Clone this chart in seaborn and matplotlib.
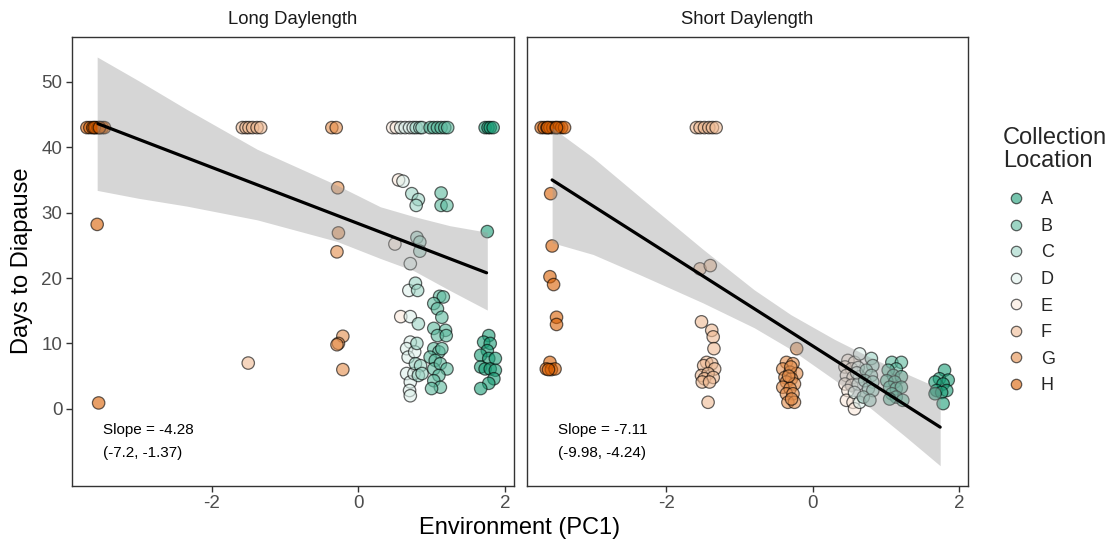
import matplotlib
matplotlib.use("Agg")
import matplotlib.pyplot as plt
from matplotlib.lines import Line2D
import seaborn as sns
import pandas as pd

sns.set_theme(style="white")
plt.rcParams['font.family'] = ['Liberation Sans', 'DejaVu Sans']
plt.rcParams['axes.unicode_minus'] = False

locations = ["A", "B", "C", "D", "E", "F", "G", "H"]
loc_colors = ["#1b9e77", "#5cba9e", "#9dd5c5", "#def1ec",
              "#fae8db", "#efba93", "#e48d4a", "#d95f02"]

# ---- Long daylength: points (PC1, days) ----
long_x = [
    # H
    -3.70, -3.66, -3.62, -3.58, -3.55, -3.52, -3.49, -3.46, -3.60, -3.53, -3.56, -3.54,
    # F
    -1.58, -1.53, -1.49, -1.44, -1.38, -1.33, -1.50,
    # G
    -0.36, -0.30, -0.28, -0.27, -0.29, -0.21, -0.27, -0.29, -0.21,
    # E
    0.47, 0.52, 0.55, 0.50, 0.58,
    # D
    0.58, 0.64, 0.70, 0.75, 0.61, 0.71, 0.69, 0.71, 0.71, 0.66, 0.68, 0.66, 0.71, 0.70, 0.71, 0.76, 0.77,
    # C
    0.79, 0.84, 0.87, 0.73, 0.82, 0.79, 0.80, 0.84, 0.84, 0.78, 0.81, 0.82, 0.80, 0.78, 0.85, 0.82, 0.87,
    # B
    0.98, 1.03, 1.08, 1.13, 1.18, 1.22, 1.13, 1.13, 1.21, 1.11, 1.16, 1.03, 1.08, 1.14, 1.03, 1.19,
    1.08, 1.20, 1.03, 1.10, 1.14, 0.98, 1.05, 1.03, 1.12, 1.21, 1.10, 1.03, 1.12, 1.00,
    # A
    1.73, 1.77, 1.80, 1.84, 1.76, 1.78, 1.71, 1.80, 1.76, 1.67, 1.78, 1.87, 1.67, 1.73, 1.80, 1.87,
    1.85, 1.78, 1.67,
]
long_y = [
    43, 43, 43, 43, 43, 43, 43, 43, 43, 43, 28.2, 0.9,
    43, 43, 43, 43, 43, 43, 7.0,
    43, 43, 33.8, 26.9, 24.0, 11.1, 10.0, 9.8, 6.0,
    43, 43, 35.0, 25.2, 14.1,
    43, 43, 43, 43, 34.8, 22.2, 18.1, 14.1, 10.2, 9.2, 7.9, 5.4, 4.1, 2.8, 2.0, 5.4, 8.7,
    43, 43, 43, 32.9, 32.0, 31.1, 26.2, 25.5, 24.1, 19.2, 18.1, 13.0, 10.0, 6.9, 6.6, 5.1, 5.4,
    43, 43, 43, 43, 43, 43, 33.0, 31.1, 31.1, 17.2, 17.1, 16.1, 15.3, 14.0, 12.3, 12.0,
    11.2, 11.2, 9.2, 8.7, 9.2, 7.9, 7.4, 6.1, 6.9, 6.1, 5.1, 4.3, 3.3, 3.1,
    43, 43, 43, 43, 27.1, 11.2, 10.2, 10.0, 8.9, 8.2, 7.7, 7.7, 6.4, 6.1, 6.1, 5.9,
    4.6, 3.9, 3.1,
]
long_loc = list("H" * 12 + "F" * 7 + "G" * 9 + "E" * 5 + "D" * 17 + "C" * 17 + "B" * 30 + "A" * 19)

# ---- Short daylength ----
short_x = [
    # H
    -3.71, -3.67, -3.63, -3.59, -3.55, -3.51, -3.47, -3.43, -3.39, -3.62, -3.50,
    -3.58, -3.56, -3.59, -3.54, -3.50, -3.50, -3.59, -3.64, -3.57, -3.52, -3.61,
    # F
    -1.59, -1.54, -1.48, -1.42, -1.37, -1.32, -1.54, -1.40, -1.52, -1.38, -1.36, -1.35,
    -1.45, -1.49, -1.38, -1.34, -1.52, -1.43, -1.48, -1.36, -1.51, -1.41, -1.43,
    # G
    -0.22, -0.36, -0.27, -0.41, -0.31, -0.22, -0.38, -0.29, -0.36, -0.25, -0.41, -0.31,
    -0.36, -0.27, -0.34, -0.25, -0.29, -0.30, -0.33,
    # E
    0.48, 0.57, 0.44, 0.53, 0.46, 0.55, 0.44, 0.53, 0.48, 0.46, 0.55, 0.57,
    # D
    0.64, 0.62, 0.64, 0.62, 0.57, 0.64, 0.60,
    # C
    0.80, 0.82, 0.73, 0.80, 0.71, 0.82, 0.76, 0.82, 0.69, 0.78,
    # B
    1.08, 1.21, 1.14, 1.03, 1.10, 1.21, 1.01, 1.12, 1.05, 1.14, 1.21, 1.08, 1.14, 1.23, 1.05,
    # A
    1.80, 1.73, 1.85, 1.67, 1.78, 1.69, 1.83, 1.76, 1.78, 1.67,
]
short_y = [
    43, 43, 43, 43, 43, 43, 43, 43, 43, 43, 43,
    32.9, 24.9, 20.2, 19.0, 14.0, 12.9, 7.1, 6.1, 6.0, 6.1, 6.0,
    43, 43, 43, 43, 43, 43, 21.4, 21.9, 13.3, 12.0, 11.0, 9.2,
    7.1, 6.6, 6.9, 6.1, 5.1, 5.4, 4.6, 4.8, 4.1, 4.1, 1.0,
    9.2, 7.1, 6.9, 6.1, 5.6, 5.4, 4.8, 4.6, 4.1, 3.8, 3.3, 3.1,
    2.3, 2.3, 1.0, 1.0, 1.5, 6.4, 5.0,
    7.4, 7.1, 6.4, 6.1, 5.1, 4.8, 3.8, 3.6, 2.8, 1.3, 1.0, 0.0,
    8.4, 6.3, 4.9, 3.8, 2.5, 1.0, 5.5,
    7.7, 6.6, 5.9, 5.1, 4.3, 4.1, 3.1, 2.8, 1.8, 1.3,
    7.1, 7.1, 6.1, 5.9, 5.1, 4.9, 4.3, 4.1, 3.3, 3.1, 3.3, 2.3, 1.8, 1.3, 1.5,
    5.9, 4.6, 4.4, 4.1, 3.8, 2.8, 2.8, 2.5, 0.8, 2.3,
]
short_loc = list("H" * 22 + "F" * 23 + "G" * 19 + "E" * 12 + "D" * 7 + "C" * 10 + "B" * 15 + "A" * 10)

# fitted lines and confidence bands
long_fit_x = [-3.55, 1.75]
long_fit_y = [43.6, 20.8]
long_band_x = [-3.56, -3.0, -2.34, -1.38, -0.29, 0.30, 0.76, 1.25, 1.76]
long_band_lo = [33.4, 32.2, 31.0, 28.9, 25.6, 23.0, 21.1, 18.1, 15.1]
long_band_hi = [53.8, 50.2, 45.8, 39.7, 34.2, 30.9, 29.4, 28.0, 27.0]

short_fit_x = [-3.56, 1.74]
short_fit_y = [35.0, -2.8]
short_band_x = [-3.56, -3.0, -2.34, -1.5, -0.8, -0.3, 0.3, 0.8, 1.25, 1.74]
short_band_lo = [25.4, 23.6, 20.4, 16.2, 12.4, 9.1, 4.4, 0.0, -4.1, -8.7]
short_band_hi = [43.0, 38.4, 32.2, 24.4, 18.2, 14.4, 10.6, 7.8, 5.5, 3.1]

panel_titles = ["Long Daylength", "Short Daylength"]
slope_text = ["Slope = -4.28", "Slope = -7.11"]
ci_text = ["(-7.2, -1.37)", "(-9.98, -4.24)"]

W, H = 1110, 543
top_px, bot_px = 36.7, 486.0
fig = plt.figure(figsize=(W / 100, H / 100), dpi=100)
ax1 = fig.add_axes([71.5 / W, 1 - bot_px / H, 442.2 / W, (bot_px - top_px) / H])
ax2 = fig.add_axes([526.5 / W, 1 - bot_px / H, 441.5 / W, (bot_px - top_px) / H])

panels = [
    (ax1, long_x, long_y, long_loc, long_fit_x, long_fit_y, long_band_x, long_band_lo, long_band_hi),
    (ax2, short_x, short_y, short_loc, short_fit_x, short_fit_y, short_band_x, short_band_lo, short_band_hi),
]

for i, (ax, px, py, pl, fx, fy, bx, blo, bhi) in enumerate(panels):
    df = pd.DataFrame({"pc1": px, "days": py, "loc": pl})
    sns.scatterplot(data=df, x="pc1", y="days", hue="loc", hue_order=locations,
                    palette=loc_colors, s=80, alpha=0.6, edgecolor="black",
                    linewidth=0.9, legend=False, ax=ax, zorder=2)
    ax.fill_between(bx, blo, bhi, color="#999999", alpha=0.4, lw=0, zorder=3)
    sns.lineplot(x=fx, y=fy, color="black", lw=2.3, ax=ax, zorder=4)

    ax.set_xlim(-3.91, 2.12)
    ax.set_ylim(-11.8, 56.9)
    ax.set_xticks([-2, 0, 2])
    ax.set_yticks([0, 10, 20, 30, 40, 50])
    ax.set_xlabel("")
    ax.set_ylabel("")
    for sp in ax.spines.values():
        sp.set_color("#333333")
        sp.set_linewidth(1.0)
    ax.tick_params(axis="both", direction="out", length=4, width=1, color="#333333",
                   labelsize=13.5, labelcolor="#4d4d4d", pad=2.5, bottom=True, left=True)
    ax.text(0.5, 1 + 17 / (bot_px - top_px), panel_titles[i], transform=ax.transAxes,
            ha="center", va="center", fontsize=13.3, color="#1a1a1a")
    ax.text(-3.48, -3.3, slope_text[i], fontsize=11, va="center", ha="left", color="black")
    ax.text(-3.48, -6.8, ci_text[i], fontsize=11, va="center", ha="left", color="black")

ax2.tick_params(axis="y", left=False, labelleft=False)

fig.text(519.7 / W, 1 - 528 / H, "Environment (PC1)", ha="center", va="center",
         fontsize=17, color="black")
fig.text(22 / W, 1 - 261 / H, "Days to Diapause", ha="center", va="center",
         rotation=90, fontsize=17, color="black")

handles = [Line2D([], [], marker="o", ls="", markerfacecolor=c, markeredgecolor="black",
                  markeredgewidth=0.9, alpha=0.6, markersize=7.5) for c in loc_colors]
leg = fig.legend(handles, locations, title="Collection\nLocation", loc="upper left",
                 bbox_to_anchor=(1003 / W, 1 - 127 / H), frameon=False, fontsize=13,
                 title_fontsize=17, labelspacing=0.53, handletextpad=0.7, handlelength=1.4,
                 alignment="left", borderaxespad=0, borderpad=0)
leg.get_title().set_linespacing(1.05)
leg._legend_box.sep = 14

fig.savefig("out.png", dpi=100)
